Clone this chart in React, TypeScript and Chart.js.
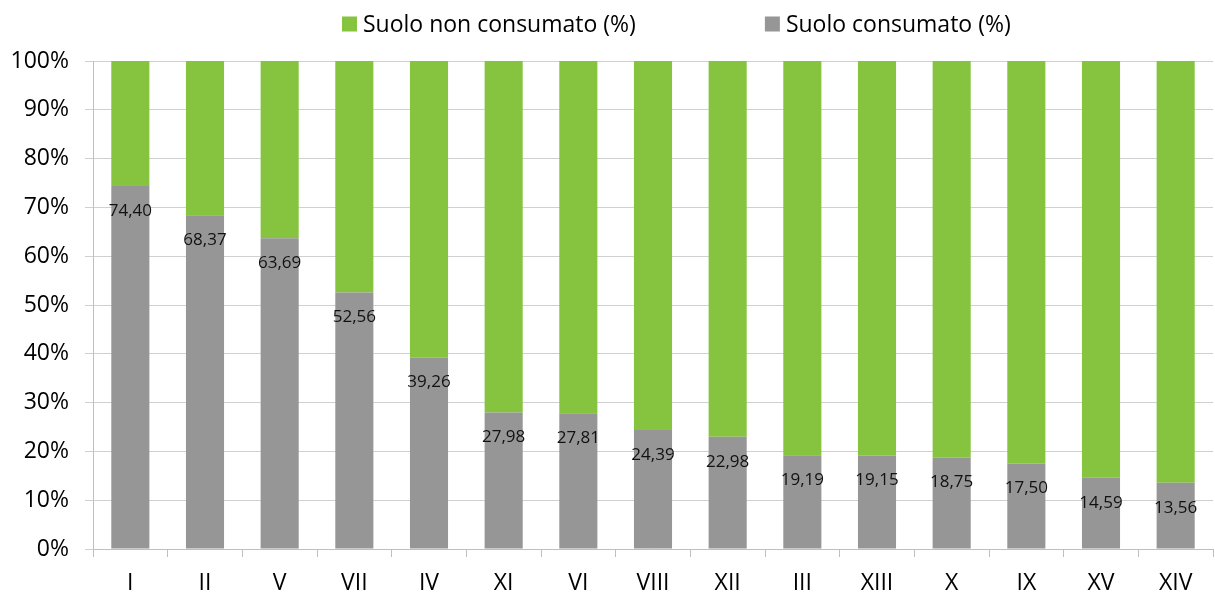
import React, { useEffect, useRef } from "react";
import { Chart, registerables } from "chart.js";

Chart.register(...registerables);

const categories = ["I", "II", "V", "VII", "IV", "XI", "VI", "VIII", "XII", "III", "XIII", "X", "IX", "XV", "XIV"];
const consumato = [74.40, 68.37, 63.69, 52.56, 39.26, 27.98, 27.81, 24.39, 22.98, 19.19, 19.15, 18.75, 17.50, 14.59, 13.56];
const nonConsumato = [25.60, 31.63, 36.31, 47.44, 60.74, 72.02, 72.19, 75.61, 77.02, 80.81, 80.85, 81.25, 82.50, 85.41, 86.44];
const yTicks = [0, 10, 20, 30, 40, 50, 60, 70, 80, 90, 100];

const FONT = "'Open Sans', sans-serif";
const GREEN = "#86c440";
const GRAY = "#969696";

const labelPlugin = {
  id: "barLabels",
  afterDatasetsDraw(chart: any) {
    const meta = chart.getDatasetMeta(0);
    const ctx = chart.ctx;
    ctx.save();
    ctx.font = `17px ${FONT}`;
    ctx.fillStyle = "#111";
    ctx.textAlign = "center";
    ctx.textBaseline = "middle";
    meta.data.forEach((bar: any, i: number) => {
      ctx.fillText(consumato[i].toFixed(2).replace(".", ","), bar.x, bar.y + 25);
    });
    ctx.restore();
  },
};

const legendPlugin = {
  id: "customLegend",
  afterDraw(chart: any) {
    const ctx = chart.ctx;
    const items = [chart.data.datasets[1], chart.data.datasets[0]];
    ctx.save();
    ctx.font = `23px ${FONT}`;
    ctx.textBaseline = "middle";
    ctx.textAlign = "left";
    let x = 342;
    const y = 24;
    items.forEach((ds: any) => {
      ctx.fillStyle = ds.backgroundColor;
      ctx.fillRect(x, y - 7.5, 15, 15);
      ctx.fillStyle = "#000";
      ctx.fillText(ds.label, x + 21, y + 1);
      x += 21 + ctx.measureText(ds.label).width + 129;
    });
    ctx.restore();
  },
};

export default function App() {
  const ref = useRef<HTMLCanvasElement | null>(null);
  useEffect(() => {
    document.body.style.margin = "0";
    const chart = new Chart(ref.current as HTMLCanvasElement, {
      type: "bar",
      data: {
        labels: categories,
        datasets: [
          {
            label: "Suolo consumato (%)",
            data: consumato,
            backgroundColor: GRAY,
            borderWidth: 0,
            barPercentage: 0.51,
            categoryPercentage: 1,
          },
          {
            label: "Suolo non consumato (%)",
            data: nonConsumato,
            backgroundColor: GREEN,
            borderWidth: 0,
            barPercentage: 0.51,
            categoryPercentage: 1,
          },
        ],
      },
      options: {
        animation: false,
        responsive: false,
        maintainAspectRatio: false,
        layout: { padding: { left: 0, right: 2, top: 61, bottom: 0 } },
        plugins: {
          tooltip: { enabled: false },
          legend: { display: false },
        },
        scales: {
          x: {
            stacked: true,
            offset: true,
            grid: {
              offset: true,
              drawOnChartArea: false,
              drawTicks: true,
              tickLength: 8,
              color: "#bfbfbf",
              lineWidth: 1,
            },
            border: { color: "#bfbfbf", width: 1 },
            ticks: {
              font: { family: FONT, size: 23 },
              color: "#000",
              padding: 13,
              maxRotation: 0,
            },
            afterFit(scale: any) {
              scale.height = 45;
            },
          },
          y: {
            stacked: true,
            min: 0,
            max: 100,
            afterBuildTicks(scale: any) {
              scale.ticks = yTicks.map((v) => ({ value: v }));
            },
            grid: {
              color: "#d0d0d0",
              tickLength: 8,
              lineWidth: 1,
            },
            border: { color: "#bfbfbf", width: 1 },
            ticks: {
              font: { family: FONT, size: 23 },
              color: "#000",
              padding: 16,
              callback: (v: any) => v + "%",
            },
            afterFit(scale: any) {
              scale.width = 93;
            },
          },
        },
      },
      plugins: [labelPlugin, legendPlugin],
    });
    return () => chart.destroy();
  }, []);
  return (
    <div style={{ width: 1215, height: 594 }}>
      <canvas ref={ref} width={1215} height={594} style={{ display: "block" }} />
    </div>
  );
}
